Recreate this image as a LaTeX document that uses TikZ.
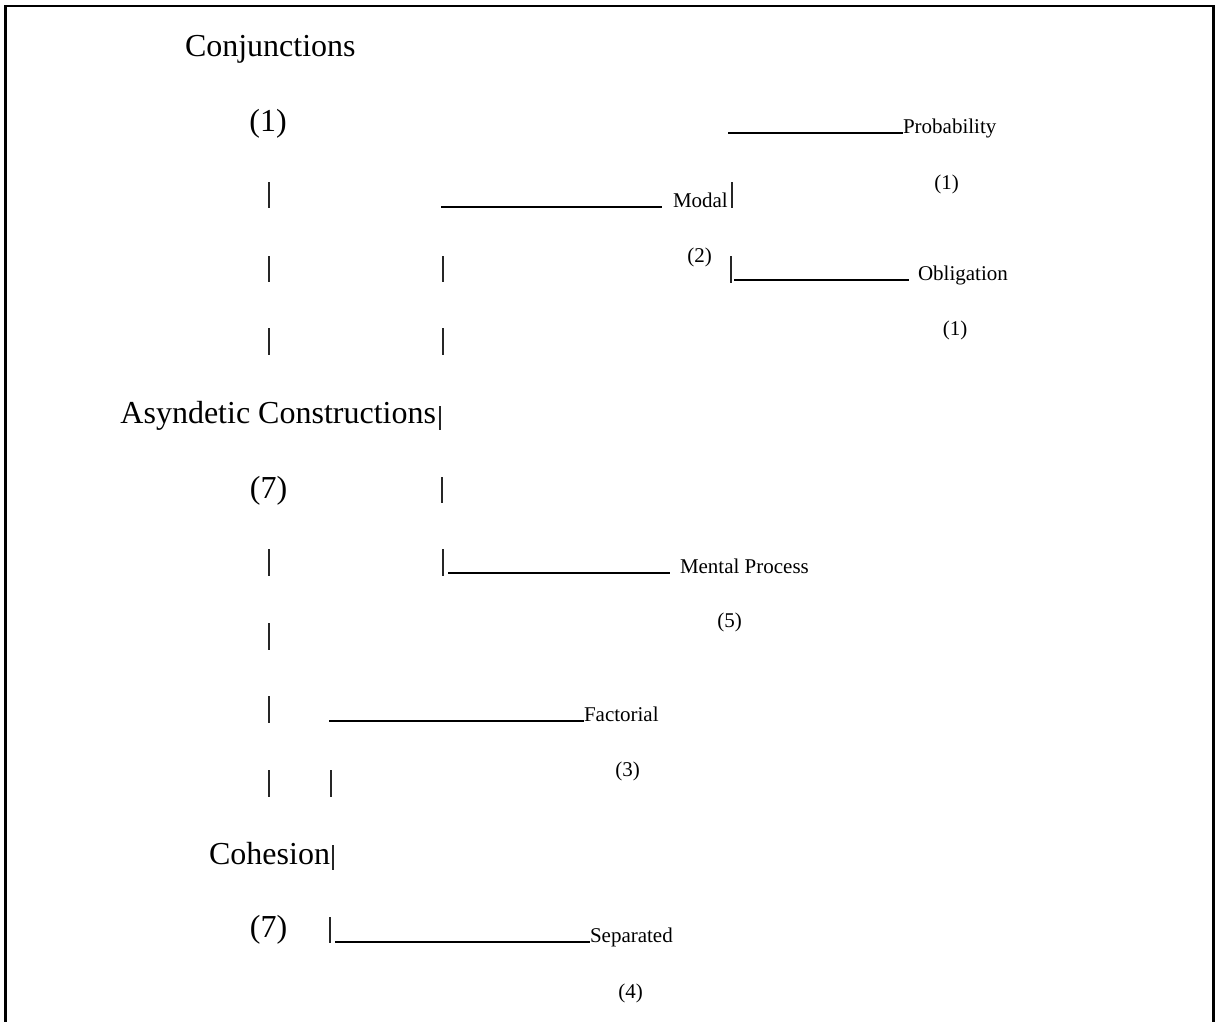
\documentclass[tikz,border=0pt]{standalone}
\usepackage{fontspec}
\setmainfont{Liberation Serif}
\begin{document}
\begin{tikzpicture}[x=1pt,y=-1pt,
  big/.style={font=\fontsize{32}{38}\selectfont, inner sep=0pt, outer sep=0pt},
  small/.style={font=\fontsize{21}{25}\selectfont, inner sep=0pt, outer sep=0pt},
  bar/.style={line width=1.4pt, draw=black!85},
  rule/.style={line width=1.5pt, draw=black},
  frame/.style={line width=2.2pt, draw=black}]
\useasboundingbox (0,0) rectangle (1219,1021);
% frame (bottom edge lies outside the picture)
\coordinate (fbl) at (5.5,1030);
\coordinate (ftl) at (5.5,6);
\coordinate (ftr) at (1213.5,6);
\coordinate (fbr) at (1213.5,1030);
\draw[frame] (fbl) -- (ftl) -- (ftr) -- (fbr);

% main column texts
\node[big, anchor=base west] (conj) at (185,56) {Conjunctions};
\node[big] (conjn) at (268,124) {(1)};
\node[big, anchor=base east] (asyn) at (436,423) {Asyndetic Constructions};
\node[big] (asynn) at (268.5,491) {(7)};
\node[big, anchor=base east] (coh) at (330,864) {Cohesion};
\node[big] (cohn) at (268.5,930) {(7)};

% branch texts
\node[small, anchor=base west] (prob) at (903,133) {Probability};
\node[small] (probn) at (946.5,184) {(1)};
\node[small, anchor=base west] (modal) at (673,207) {Modal};
\node[small] (modaln) at (699.5,257) {(2)};
\node[small, anchor=base west] (oblig) at (918,280) {Obligation};
\node[small] (oblign) at (955,330) {(1)};
\node[small, anchor=base west] (mental) at (680,573) {Mental Process};
\node[small] (mentaln) at (729.5,622) {(5)};
\node[small, anchor=base west] (fact) at (584,721) {Factorial};
\node[small] (factn) at (627.5,771) {(3)};
\node[small, anchor=base west] (sep) at (590,942) {Separated};
\node[small] (sepn) at (630.5,993) {(4)};

% vertical bars
\foreach \n/\x/\a/\b in {
  a1/269/182/208, a2/269/256/282, a3/269/328/355,
  a4/269/549/576, a5/269/623/650, a6/269/696/723, a7/269/770/797,
  c1/443/256/282, c2/443/328/355, c3/440/406/430, c4/442/477/503, c5/443/549/576,
  d1/331/770/797, d2/333/845/870, d3/330/917/943,
  e1/732/182/208, e2/731/256/283}
{
  \coordinate (bar\n t) at (\x,\a);
  \coordinate (bar\n b) at (\x,\b);
  \draw[bar] (bar\n t) -- (bar\n b);
}

% horizontal rules leading to the labels
\coordinate (probL) at (728,133);
\coordinate (modalL) at (441,207);
\coordinate (obligL) at (734,280);
\coordinate (mentalL) at (448,573);
\coordinate (factL) at (329,721);
\coordinate (sepL) at (335,942);
\draw[rule] (probL) -- (prob.base west);
\draw[rule] (modalL) -- ([xshift=-11pt]modal.base west);
\draw[rule] (obligL) -- ([xshift=-9pt]oblig.base west);
\draw[rule] (mentalL) -- ([xshift=-10pt]mental.base west);
\draw[rule] (factL) -- (fact.base west);
\draw[rule] (sepL) -- (sep.base west);
\end{tikzpicture}
\end{document}
